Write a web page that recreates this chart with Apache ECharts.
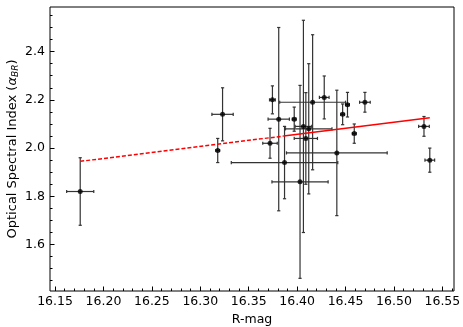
<!DOCTYPE html>
<html>
<head>
<meta charset="utf-8">
<script src="https://cdn.jsdelivr.net/npm/echarts@6/dist/echarts.min.js"></script>
<style>
  html, body { margin: 0; padding: 0; background: #fff; }
  #chart { width: 463px; height: 327px; }
</style>
</head>
<body>
<div id="chart"></div>
<script>
// R-band magnitude and optical spectral index, with errors
const rmag = [16.176, 16.318, 16.323, 16.3745, 16.381, 16.397, 16.416, 16.428, 16.447, 16.452, 16.470,
  16.459, 16.531, 16.537, 16.441, 16.387, 16.403, 16.4065, 16.412, 16.409, 16.372]
const alpha = [1.82, 1.99, 2.14, 2.20, 2.12, 2.12, 2.19, 2.21, 2.14, 2.18, 2.19,
  2.06, 2.09, 1.95, 1.98, 1.94, 1.86, 2.09, 2.08, 2.04, 2.02]
const rmagErr = [0.014, 0.002, 0.011, 0.003, 0.011, 0.002, 0.034, 0.005, 0.002, 0.002, 0.0055,
  0.002, 0.0055, 0.005, 0.052, 0.055, 0.029, 0.0086, 0.024, 0.012, 0.0075]
const alphaErr = [0.14, 0.05, 0.11, 0.058, 0.38, 0.05, 0.28, 0.089, 0.043, 0.051, 0.041,
  0.04, 0.041, 0.05, 0.26, 0.15, 0.40, 0.44, 0.27, 0.19, 0.062]

// linear fit: dashed extension and solid part
const fitDashed = [[16.176, 1.945], [16.386, 2.050]]
const fitSolid = [[16.386, 2.050], [16.537, 2.126]]

// tick labels
const xTicks = [16.15, 16.20, 16.25, 16.30, 16.35, 16.40, 16.45, 16.50, 16.55]
const yTicks = [1.6, 1.8, 2.0, 2.2, 2.4]

const xMin = 16.1448, xMax = 16.562
const yMin = 1.4075, yMax = 2.585

const xMinor = []
for (let v = 16.15; v < xMax; v += 0.01) xMinor.push(+v.toFixed(2))
const yMinor = []
for (let v = 1.45; v < yMax; v += 0.05) yMinor.push(+v.toFixed(2))

const font = "DejaVu Sans"
const chart = echarts.init(document.getElementById("chart"))

function renderErr(params, api) {
  const x = api.value(0), y = api.value(1), ex = api.value(2), ey = api.value(3)
  const c = api.coord([x, y])
  const l = api.coord([x - ex, y]), r = api.coord([x + ex, y])
  const t = api.coord([x, y + ey]), b = api.coord([x, y - ey])
  const cap = 1.6
  const style = { stroke: "#333", lineWidth: 1.2 }
  const seg = (x1, y1, x2, y2) => ({ type: "line", shape: { x1, y1, x2, y2 }, style })
  return {
    type: "group",
    children: [
      seg(l[0], c[1], r[0], c[1]),
      seg(l[0], c[1] - cap, l[0], c[1] + cap),
      seg(r[0], c[1] - cap, r[0], c[1] + cap),
      seg(c[0], t[1], c[0], b[1]),
      seg(c[0] - cap, t[1], c[0] + cap, t[1]),
      seg(c[0] - cap, b[1], c[0] + cap, b[1])
    ]
  }
}

const option = {
  animation: false,
  grid: {
    left: 50, top: 7, right: 9, bottom: 36,
    outerBoundsMode: "none", containLabel: false,
    show: true, borderColor: "#000", borderWidth: 1, backgroundColor: "transparent"
  },
  xAxis: [
    {
      type: "value", min: xMin, max: xMax, position: "bottom",
      name: "R-mag", nameLocation: "middle", nameGap: 12,
      nameTextStyle: { fontFamily: font, fontSize: 12.5, color: "#000" },
      axisLine: { show: false },
      splitLine: { show: false },
      axisTick: { show: true, inside: true, length: 4.5, customValues: xTicks, lineStyle: { color: "#000" } },
      axisLabel: {
        customValues: xTicks, margin: 4, fontFamily: font, fontSize: 12.5, color: "#000",
        formatter: v => v.toFixed(2)
      }
    },
    {
      type: "value", min: xMin, max: xMax, position: "bottom",
      axisLine: { show: false }, splitLine: { show: false }, axisLabel: { show: false },
      axisTick: { show: true, inside: true, length: 2.5, customValues: xMinor, lineStyle: { color: "#000" } }
    }
  ],
  yAxis: [
    {
      type: "value", min: yMin, max: yMax, position: "left",
      name: "Optical Spectral Index ({it|α}{sub|BR})", nameLocation: "middle", nameGap: 30,
      nameMoveOverlap: false,
      nameTextStyle: {
        fontFamily: font, fontSize: 13, color: "#000",
        rich: {
          it: { fontFamily: font, fontSize: 13, fontStyle: "italic", color: "#000" },
          sub: { fontFamily: font, fontSize: 9, fontStyle: "italic", color: "#000", verticalAlign: "bottom", padding: [6, 0, 0, 0] }
        }
      },
      axisLine: { show: false },
      splitLine: { show: false },
      axisTick: { show: true, inside: true, length: 4.5, customValues: yTicks, lineStyle: { color: "#000" } },
      axisLabel: {
        customValues: yTicks, margin: 5, fontFamily: font, fontSize: 12.5, color: "#000",
        formatter: v => v.toFixed(1)
      }
    },
    {
      type: "value", min: yMin, max: yMax, position: "left",
      axisLine: { show: false }, splitLine: { show: false }, axisLabel: { show: false },
      axisTick: { show: true, inside: true, length: 2.5, customValues: yMinor, lineStyle: { color: "#000" } }
    }
  ],
  series: [
    {
      type: "custom",
      renderItem: renderErr,
      data: rmag.map((x, i) => [x, alpha[i], rmagErr[i], alphaErr[i]]),
      z: 2
    },
    {
      type: "scatter",
      data: rmag.map((x, i) => [x, alpha[i]]),
      symbol: "circle", symbolSize: 5,
      itemStyle: { color: "#000" },
      z: 3
    },
    {
      type: "line", data: fitDashed, showSymbol: false, symbol: "none",
      lineStyle: { color: "#ff0000", width: 1.5, type: [4, 2] }, z: 4
    },
    {
      type: "line", data: fitSolid, showSymbol: false, symbol: "none",
      lineStyle: { color: "#ff0000", width: 1.5 }, z: 4
    }
  ]
}

chart.setOption(option)
</script>
</body>
</html>
